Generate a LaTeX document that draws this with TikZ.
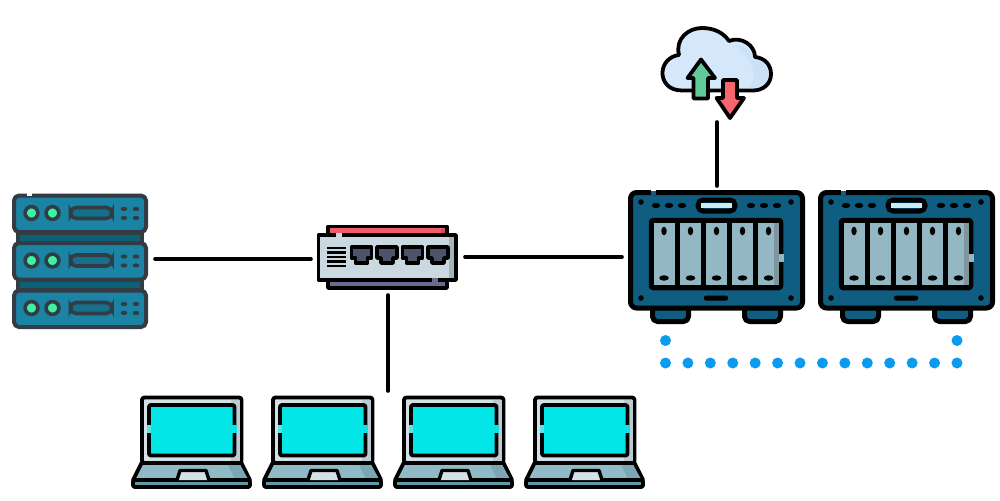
\documentclass[tikz,border=0pt]{standalone}
\usetikzlibrary{calc}
\definecolor{srvline}{HTML}{333C44}
\definecolor{srvfill}{HTML}{1B83A3}
\definecolor{srvdark}{HTML}{0D6176}
\definecolor{pillfill}{HTML}{15708A}
\definecolor{ledgreen}{HTML}{3CF2A4}
\definecolor{swbody}{HTML}{C9D9DF}
\definecolor{swshade}{HTML}{A3B5BB}
\definecolor{swred}{HTML}{F45B69}
\definecolor{swreddark}{HTML}{C9505C}
\definecolor{swpurple}{HTML}{6A6A8C}
\definecolor{portfill}{HTML}{4D5369}
\definecolor{nasfill}{HTML}{0F5E82}
\definecolor{baylight}{HTML}{93B8C4}
\definecolor{bayshade}{HTML}{7F969F}
\definecolor{handle}{HTML}{C5ECF7}
\definecolor{screen}{HTML}{03E6E8}
\definecolor{lidbody}{HTML}{D3E0E5}
\definecolor{lidshade}{HTML}{BCCBD1}
\definecolor{basefill}{HTML}{8FBAC6}
\definecolor{baseshade}{HTML}{7BA7B5}
\definecolor{basedark}{HTML}{5F9AAA}
\definecolor{cloudfill}{HTML}{D5E7FA}
\definecolor{cloudshade}{HTML}{CAE1F8}
\definecolor{upgreen}{HTML}{62C99A}
\definecolor{downred}{HTML}{F8656F}
\definecolor{dotblue}{HTML}{0A9BEE}
\tikzset{
  px/.style={line width=#1*0.05cm},
  link/.style={px=3.6,black,line cap=round},
  blkline/.style={px=3.8,draw=black,line join=round,line cap=round},
  srvstroke/.style={px=4,draw=srvline,line join=round,line cap=round},
  dotmark/.style={circle,fill=dotblue,draw=none,minimum size=0.55cm,inner sep=0pt},
}
\newcommand{\srvunit}[1]{%
  \begin{scope}[yshift=-#1*0.05cm]
    \draw[srvstroke,fill=srvfill,rounded corners=0.25cm] (14,195.5) rectangle (146,232);
    \foreach \cx in {31.5,52.5}{
      \draw[px=3.6,draw=srvline,fill=ledgreen] (\cx,213) circle (6.4);
    }
    \draw[px=3.6,draw=srvline,fill=pillfill,rounded corners=0.28cm] (70.5,207.5) rectangle (112,218.5);
    \foreach \cx in {124,136}\foreach \cy in {209,218}{
      \fill[srvline] (\cx,\cy) ellipse (3.4 and 2.1);
    }
  \end{scope}}
\newcommand{\nasunit}[1]{%
  \begin{scope}[xshift=#1*0.05cm]
    \foreach \fx in {652.5,744.5}{
      \draw[blkline,px=5,fill=nasfill,rounded corners=0.25cm] (\fx,305) rectangle ++(36,16.5);
    }
    \draw[px=5,draw=black,fill=nasfill,rounded corners=0.3cm,line join=round] (630.5,192.5) rectangle (802.5,308);
    \fill[white] (651,189) rectangle (656,191);
    \fill[nasfill] (651,191) rectangle (656,195);
    \foreach \sx in {656,669,682,751,764,777}{
      \fill[black] (\sx,205.5) ellipse (4.2 and 2.6);
    }
    \fill[black] (641,202) circle (2.8) (791,202) circle (2.8) (641,298) circle (2.8) (791,298) circle (2.8);
    \draw[px=5,draw=black,fill=nasfill,rounded corners=0.25cm] (698,200) rectangle (735,211);
    \fill[handle] (701,203) rectangle (732,208);
    \fill[black,rounded corners=0.1cm] (704,295.5) rectangle (728,300.5);
    \draw[px=4.5,draw=black,fill=black,rounded corners=0.12cm] (651,220) rectangle (781,288);
    \foreach \bx in {653.5,680,706,732,758}{
      \fill[baylight] (\bx,222.5) rectangle ++(21,62.5);
      \fill[black] (\bx+10.5,231) ellipse (2.7 and 4.3);
      \fill[black] (\bx+10.5,278) ellipse (4.8 and 2.7);
    }
    \fill[bayshade] (774,222.5) rectangle (779,285);
    \fill[baylight] (778.5,254) rectangle (783.5,262);
  \end{scope}}
\newcommand{\laptopunit}[1]{%
  \begin{scope}[xshift=#1*0.05cm]
    \draw[blkline,fill=basefill] (141.5,463) -- (241.5,463) -- (250,480) -- (133,480) -- cycle;
    \fill[baseshade] (228,465) -- (240,465) -- (248,479) -- (235,479) -- cycle;
    \draw[blkline,fill=basedark,rounded corners=0.1cm] (133,480) rectangle (250,487);
    \draw[blkline,fill=lidbody,rounded corners=0.12cm] (142,397.5) rectangle (241.5,463);
    \fill[lidshade] (231,399.5) rectangle (239.5,461);
    \draw[blkline,fill=screen,rounded corners=0.1cm] (149,405) rectangle (234.5,455.5);
    \fill[screen!60!lidbody] (146.8,425) rectangle (151.2,433);
    \fill[screen] (232.3,425) rectangle (236.7,433);
    \draw[blkline,fill=lidbody,px=3.4] (177,480) -- (180,470.5) -- (206,470.5) -- (209,480);
  \end{scope}}
\begin{document}
\begin{tikzpicture}[x=0.05cm,y=-0.05cm]
\useasboundingbox (0,0) rectangle (1000,500);
\fill[white] (0,0) rectangle (1000,500);

% server stack
\foreach \by in {233,280}{
  \draw[srvstroke,fill=srvdark] (18,\by) rectangle (142,\by+10);
}
\srvunit{0}\srvunit{47.5}\srvunit{95}
\fill[white] (27,191.5) rectangle (32,195.5);
\coordinate (srvport) at (155,259);

% switch
\draw[blkline,fill=swred] (328,226.5) rectangle (447,236);
\fill[swreddark] (441,228.5) rectangle (445,233);
\draw[blkline,fill=swpurple] (328,278) rectangle (447,288);
\draw[blkline,fill=swbody] (318.5,235) rectangle (456,280);
\fill[swshade] (449,237) rectangle (454,278);
\fill[swbody] (336,233) rectangle (342,237);
\fill[swpurple] (432,278) rectangle (438,282);
\foreach \ly in {248,252.5,257,261.5,266}{
  \draw[px=2.5,black] (327,\ly) -- (346,\ly);
}
\foreach \px in {351.5,377,402.5,428}{
  \draw[px=3.6,draw=black,fill=portfill,line join=round] (\px,247) -- ++(20,0) -- ++(0,11) -- ++(-4,0) -- ++(0,5) -- ++(-12,0) -- ++(0,-5) -- ++(-4,0) -- cycle;
}
\coordinate (swwest) at (311,259);
\coordinate (sweast) at (465,257);
\coordinate (swsouth) at (388,295);

% NAS
\nasunit{0}\nasunit{190}
\coordinate (naswest) at (622,257);
\coordinate (nasnorth) at (717,186);

% cloud
\draw[blkline,fill=cloudfill]
  (682,90.5) .. controls (668,90.5) and (662,81) .. (662.5,72)
  .. controls (663,63) and (670,56) .. (679,55)
  .. controls (675,39) and (688,28) .. (702,28)
  .. controls (713,28) and (723,32) .. (729,41)
  .. controls (741,36) and (755,45) .. (755,57)
  .. controls (765,58) and (771,65) .. (771,74)
  .. controls (771,84) and (763,90.5) .. (753,90.5) -- cycle;
\fill[cloudshade] (735,46) .. controls (748,44) and (752,54) .. (752,60)
  .. controls (762,60) and (768,66) .. (768,74)
  .. controls (768,82) and (762,88) .. (752,88) -- (748,88)
  .. controls (758,80) and (756,62) .. (735,46) -- cycle;
\draw[blkline,fill=upgreen] (701,59.5) -- (715,78) -- (708,78) -- (708,98.5) -- (693.5,98.5) -- (693.5,78) -- (687.5,78) -- cycle;
\draw[blkline,fill=downred] (723,80) -- (737,80) -- (737,98) -- (744,98) -- (730,118) -- (716.5,98) -- (723,98) -- cycle;
\coordinate (cloudport) at (717,122);

% laptops
\laptopunit{0}\laptopunit{131}\laptopunit{262}\laptopunit{393}
\coordinate (lappt) at (388,391);

% connectors
\draw[link] (srvport) -- (swwest);
\draw[link] (sweast) -- (naswest);
\draw[link] (swsouth) -- (lappt);
\draw[link] (cloudport) -- (nasnorth);

% dots
\node[dotmark] (dTL) at (665.5,340.5) {};
\node[dotmark] (dTR) at (957,340.5) {};
\foreach \i in {0,...,13}{
  \node[dotmark] (d\i) at ({665.5+\i*22.42},363) {};
}
\end{tikzpicture}
\end{document}
